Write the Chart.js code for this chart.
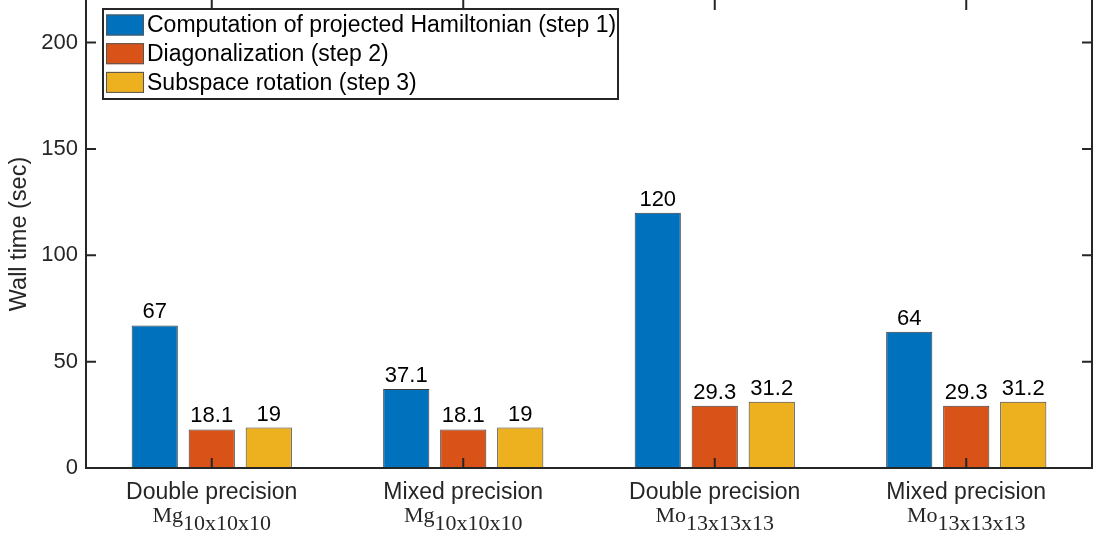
<!DOCTYPE html>
<html>
<head>
<meta charset="utf-8">
<script src="https://cdn.jsdelivr.net/npm/chart.js@4"></script>
<style>
  html, body { margin: 0; padding: 0; background: #fff; }
  #wrap { width: 1094px; height: 539px; }
</style>
</head>
<body>
<div id="wrap"><canvas id="c" width="1094" height="539"></canvas></div>
<script>
// categories: first line + element name + subscript
const groupNames = ["Double precision", "Mixed precision", "Double precision", "Mixed precision"]
const elements = ["Mg", "Mg", "Mo", "Mo"]
const sizes = ["10x10x10", "10x10x10", "13x13x13", "13x13x13"]

const seriesNames = [
  "Computation of projected Hamiltonian (step 1)",
  "Diagonalization (step 2)",
  "Subspace rotation (step 3)"
]
const step1 = [67, 37.1, 120, 64]
const step2 = [18.1, 18.1, 29.3, 29.3]
const step3 = [19, 19, 31.2, 31.2]

const yTicks = [0, 50, 100, 150, 200]

const colors = ["#0072BD", "#D95319", "#EDB120"]
const axisColor = "#262626"
const sans = "'Liberation Sans', Arial, sans-serif"
const serif = "'Liberation Serif', 'DejaVu Serif', serif"

const matlabAxes = {
  id: "matlabAxes",
  afterDatasetsDraw(chart){
    const ctx = chart.ctx
    const a = chart.chartArea
    const xs = chart.scales.x, ys = chart.scales.y
    ctx.save()

    // value labels above bars
    ctx.fillStyle = "#000"
    ctx.font = "22px " + sans
    ctx.textAlign = "center"
    ctx.textBaseline = "alphabetic"
    chart.data.datasets.forEach((ds, di) => {
      chart.getDatasetMeta(di).data.forEach((bar, i) => {
        ctx.fillText(String(ds.data[i]), bar.x, bar.y - 7)
      })
    })

    // box (top edge falls outside the picture)
    ctx.strokeStyle = axisColor
    ctx.lineWidth = 2
    ctx.beginPath()
    ctx.moveTo(a.left, a.top); ctx.lineTo(a.left, a.bottom)
    ctx.lineTo(a.right, a.bottom); ctx.lineTo(a.right, a.top)
    ctx.stroke()

    // inward ticks
    const tl = 10
    ctx.beginPath()
    yTicks.forEach(v => {
      const y = ys.getPixelForValue(v)
      ctx.moveTo(a.left, y); ctx.lineTo(a.left + tl, y)
      ctx.moveTo(a.right, y); ctx.lineTo(a.right - tl, y)
    })
    groupNames.forEach((n, i) => {
      const x = xs.getPixelForValue(i)
      ctx.moveTo(x, a.bottom); ctx.lineTo(x, a.bottom - tl)
      ctx.moveTo(x, a.top); ctx.lineTo(x, a.top + tl)
    })
    ctx.stroke()

    // category labels (two lines, subscript on second)
    groupNames.forEach((n, i) => {
      const x = xs.getPixelForValue(i)
      ctx.fillStyle = "#262626"
      ctx.font = "23px " + sans
      ctx.textAlign = "center"
      ctx.fillText(n, x, a.bottom + 31)
      ctx.font = "22px " + serif
      const w1 = ctx.measureText(elements[i]).width
      const w2 = ctx.measureText(sizes[i]).width
      const x0 = x - (w1 + w2) / 2
      ctx.textAlign = "left"
      ctx.fillText(elements[i], x0, a.bottom + 54)
      ctx.fillText(sizes[i], x0 + w1, a.bottom + 62)
    })

    // legend
    const lx = 103, ly = 9, lw = 515, lh = 90
    ctx.fillStyle = "#fff"
    ctx.fillRect(lx, ly, lw, lh)
    ctx.strokeStyle = axisColor
    ctx.lineWidth = 2
    ctx.strokeRect(lx, ly, lw, lh)
    ctx.font = "23px " + sans
    ctx.textAlign = "left"
    ctx.textBaseline = "middle"
    chart.data.datasets.forEach((ds, di) => {
      const cy = 25 + di * 28.7
      ctx.fillStyle = ds.backgroundColor
      ctx.fillRect(106, cy - 10.5, 38, 21)
      ctx.strokeStyle = "#555"
      ctx.lineWidth = 1
      ctx.strokeRect(106.5, cy - 10, 37, 20)
      ctx.fillStyle = "#000"
      ctx.fillText(ds.label, 147, cy + 1)
    })
    ctx.restore()
  }
}

new Chart(document.getElementById("c"), {
  type: "bar",
  data: {
    labels: groupNames,
    datasets: [step1, step2, step3].map((d, i) => ({
      label: seriesNames[i],
      data: d,
      backgroundColor: colors[i],
      borderColor: "#3c3c3c",
      borderWidth: 1,
      categoryPercentage: 0.68,
      barPercentage: 0.81
    }))
  },
  options: {
    responsive: false,
    animation: false,
    layout: { padding: { top: 0, right: 2, left: 0, bottom: 0 } },
    plugins: { legend: { display: false }, tooltip: { enabled: false } },
    scales: {
      x: {
        grid: { display: false },
        border: { display: false },
        ticks: { display: false },
        afterFit: s => { s.height = 71; s.paddingLeft = 0; s.paddingRight = 0 }
      },
      y: {
        min: 0,
        max: 220,
        afterFit: s => { s.width = 86; s.paddingTop = 0; s.paddingBottom = 0 },
        afterBuildTicks: s => { s.ticks = yTicks.map(v => ({ value: v })) },
        grid: { display: false, drawTicks: false },
        border: { display: false },
        ticks: { color: "#262626", font: { family: sans, size: 22 }, padding: 8 },
        title: {
          display: true,
          text: "Wall time (sec)",
          color: "#262626",
          font: { family: sans, size: 23.5 },
          padding: { top: 5, bottom: 0 }
        }
      }
    }
  },
  plugins: [matlabAxes]
})
</script>
</body>
</html>
